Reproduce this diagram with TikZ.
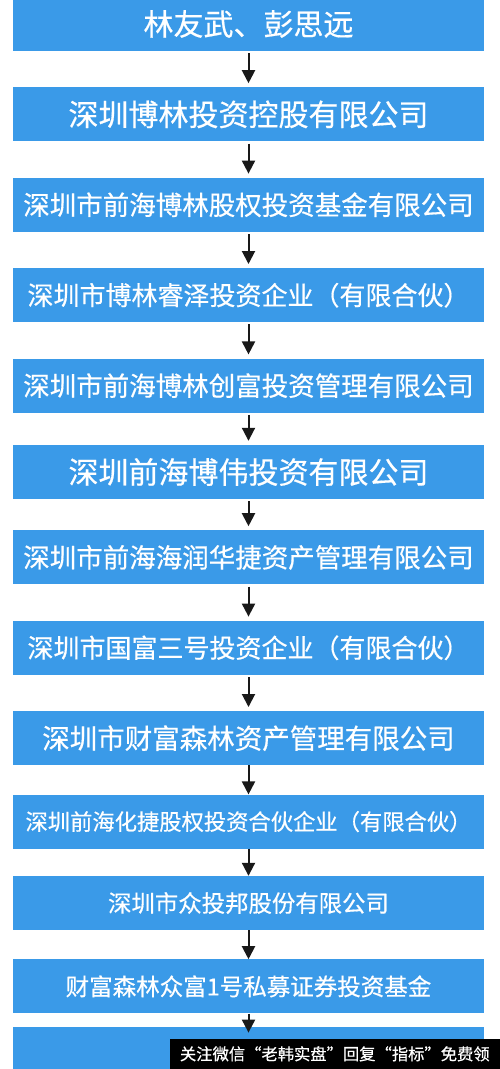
\documentclass[tikz,border=0pt]{standalone}
\usepackage{fontspec}
\newfontfamily\cjk[FakeBold=0.5]{Noto Sans CJK SC}
\usetikzlibrary{arrows.meta,positioning}
\definecolor{boxblue}{RGB}{58,154,232}

\begin{document}
\begin{tikzpicture}[
  node distance=36pt,
  box/.style={fill=boxblue, text=white, minimum width=471pt, minimum height=54pt,
              inner sep=0pt, align=center, font=\cjk},
  fs/.style={font=\cjk\fontsize{#1pt}{#1pt}\selectfont},
  arr/.style={-{Triangle[width=13pt,length=13pt]}, line width=2pt, black!90,
              shorten <=2pt, shorten >=4pt},
  fullarr/.style={arr, shorten <=0pt, shorten >=0pt},
  mark box/.style={fill=black, text=white, minimum width=330pt, minimum height=30pt,
              inner sep=0pt, font=\cjk\fontsize{16.3pt}{16.3pt}\selectfont},
]
\fill[white] (0,0) rectangle (500pt,-1069pt);
\useasboundingbox (0,0) rectangle (500pt,-1069pt);

% ---------- chain of holders ----------
\node[box, fs=30] (founders) at (248.5pt,-24pt) {林友武、彭思远};
\node[box, fs=30, below=of founders] (bolin) {深圳博林投资控股有限公司};
\node[box, fs=26.5, below=of bolin] (qhbolin) {深圳市前海博林股权投资基金有限公司};
\node[box, fs=26, below=of qhbolin] (ruize) {深圳市博林睿泽投资企业（有限合伙）};
\node[box, fs=26.5, below=of ruize] (chuangfu) {深圳市前海博林创富投资管理有限公司};
\node[box, fs=30, below=32pt of chuangfu] (bowei) {深圳前海博伟投资有限公司};
\node[box, fs=26.5, below=31pt of bowei] (runhua) {深圳市前海海润华捷资产管理有限公司};
\node[box, fs=26, below=of runhua] (guofu) {深圳市国富三号投资企业（有限合伙）};
\node[box, fs=27.5, below=of guofu] (senlin) {深圳市财富森林资产管理有限公司};
\node[box, fs=22.3, below=29pt of senlin] (huajie) {深圳前海化捷股权投资合伙企业（有限合伙）};
\node[box, fs=23.4, below=27pt of huajie] (ztb) {深圳市众投邦股份有限公司};
\node[box, fs=23.5, below=29pt of ztb] (zhongfu) {财富森林众富1号私募证券投资基金};
\node[box, below=13pt of zhongfu] (nextbox) {};

% ---------- arrows ----------
\draw[arr] (founders) -- (bolin);
\draw[arr] (bolin) -- (qhbolin);
\draw[arr] (qhbolin) -- (ruize);
\draw[arr] (ruize) -- (chuangfu);
\draw[arr] (chuangfu) -- (bowei);
\draw[arr] (bowei) -- (runhua);
\draw[arr] (runhua) -- (guofu);
\draw[arr] (guofu) -- (senlin);
\draw[fullarr] (senlin) -- (huajie);
\draw[fullarr] (huajie) -- (ztb);
\draw[fullarr] (ztb) -- (zhongfu);
\draw[fullarr, shorten >=-6pt] (zhongfu) -- (nextbox);

% ---------- watermark strip ----------
\node[mark box, anchor=south east] (wm) at (500pt,-1069pt)
  {关注微信“老韩实盘”回复“指标”免费领};

\end{tikzpicture}
\end{document}
